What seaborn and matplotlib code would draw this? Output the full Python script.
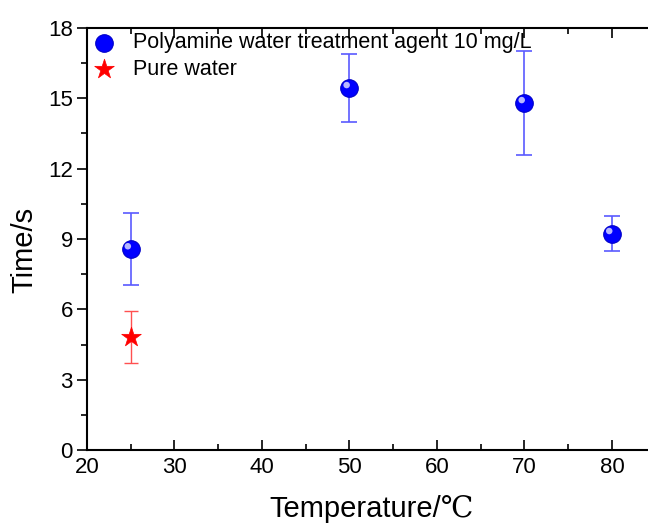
import matplotlib
matplotlib.use("Agg")
import matplotlib.pyplot as plt
import matplotlib.transforms as mtransforms
from matplotlib.ticker import MultipleLocator
import seaborn as sns
import pandas as pd

# data
poly_temp = [25, 50, 70, 80]
poly_time = [8.57, 15.44, 14.8, 9.22]
poly_err = [1.52, 1.45, 2.22, 0.74]
pure_temp = [25]
pure_time = [4.82]
pure_err = [1.1]
series_labels = ["Polyamine water treatment agent 10 mg/L", "Pure water"]

sns.set_theme(style="white")
plt.rcParams['font.family'] = ['Liberation Sans', 'DejaVu Sans']
plt.rcParams['text.color'] = 'black'
plt.rcParams['axes.labelcolor'] = 'black'

fig = plt.figure(figsize=(6.48, 5.24), dpi=100)
ax = fig.add_axes([0.134, 0.141, 0.878, 0.806])

df_poly = pd.DataFrame({"Temperature": poly_temp, "Time": poly_time})
df_pure = pd.DataFrame({"Temperature": pure_temp, "Time": pure_time})

ax.errorbar(poly_temp, poly_time, yerr=poly_err, fmt='none', ecolor='#5a5aff',
            elinewidth=1.2, capsize=6, capthick=1.2, zorder=2)
ax.errorbar(pure_temp, pure_time, yerr=pure_err, fmt='none', ecolor='#ff5050',
            elinewidth=1.0, capsize=5, capthick=1.0, zorder=2)

sns.scatterplot(data=df_poly, x="Temperature", y="Time", ax=ax, marker='o', s=160,
                color='#0000ff', edgecolor='#0000c8', linewidth=0.8, zorder=3,
                label=series_labels[0])
hl = mtransforms.offset_copy(ax.transData, fig=fig, x=-2.0, y=2.0, units='points')
ax.scatter(poly_temp, poly_time, s=22, color='#b8b8ff', edgecolor='none', transform=hl, zorder=4)
sns.scatterplot(data=df_pure, x="Temperature", y="Time", ax=ax, marker='*', s=220,
                color='#ff0000', edgecolor='#ff0000', linewidth=0.5, zorder=3,
                label=series_labels[1])

ax.set_xlim(20, 85)
ax.set_ylim(0, 18)
ax.xaxis.set_major_locator(MultipleLocator(10))
ax.xaxis.set_minor_locator(MultipleLocator(5))
ax.yaxis.set_major_locator(MultipleLocator(3))
ax.yaxis.set_minor_locator(MultipleLocator(1.5))

for s in ['left', 'bottom', 'top']:
    ax.spines[s].set_visible(True)
    ax.spines[s].set_color('black')
    ax.spines[s].set_linewidth(1.5)
ax.spines['right'].set_visible(False)

ax.tick_params(axis='x', which='both', direction='in', top=True, bottom=True,
               labeltop=False, colors='black', labelsize=16, width=1.2, pad=5)
ax.tick_params(axis='x', which='major', length=7)
ax.tick_params(axis='x', which='minor', length=4)
ax.tick_params(axis='y', which='both', direction='out', left=True, right=False,
               colors='black', labelsize=16, width=1.2, pad=3)
ax.tick_params(axis='y', which='major', length=7)
ax.tick_params(axis='y', which='minor', length=4)

ax.set_xlabel("Temperature/\u2103", fontsize=21, labelpad=12,
              family=['Liberation Sans', 'DejaVu Serif'])
ax.set_ylabel("Time/s", fontsize=21, labelpad=8)
ax.yaxis.set_label_coords(-0.085, 0.475)

leg = ax.legend(loc='upper left', frameon=False, fontsize=15.5, handletextpad=0.95,
                borderaxespad=0.0, labelspacing=0.25, handlelength=0.8,
                bbox_to_anchor=(0.0, 1.01))

fig.savefig("out.png", dpi=100)
